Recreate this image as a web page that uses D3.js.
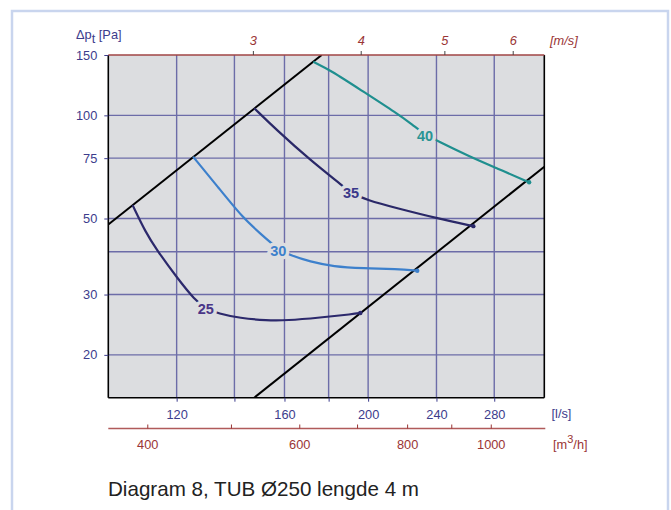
<!DOCTYPE html>
<html><head><meta charset="utf-8">
<script src="https://cdn.jsdelivr.net/npm/d3@7"></script>
<style>html,body{margin:0;padding:0;background:#fff;}svg{display:block;font-family:"Liberation Sans",Arial,sans-serif;}</style>
</head><body>
<script>
// ---- data ----
const flowDomain = [100, 320];          // l/s
const pressureDomain = [15, 150];       // Pa
const flowGrid = [120, 140, 160, 180, 200, 240, 280];
const flowLabels = [120, 160, 200, 240, 280];
const pressureGrid = [20, 30, 40, 50, 75, 100];
const pressureLabels = [20, 30, 50, 75, 100, 150];
const velocityTicks = [3, 4, 5, 6];            // m/s
const m3hTicks = [400, 500, 600, 700, 800, 900, 1000];
const m3hLabels = [400, 600, 800, 1000];
const ductDiameter = 0.25; // m

const upperLimit = [[100, 48.0], [176.7, 150]];
const lowerLimit = [[147.6, 15], [320, 70.8]];

const curve25 = [[106.7,54.7],[110.5,45.5],[113.8,40.5],[120.0,33.7],[126.0,28.9],[129.7,27.3],[134.1,26.4],[142.1,25.6],[152.6,25.2],[160.9,25.2],[175.9,25.7],[192.2,26.3],[195.9,26.5]];
const curve30 = [[125.4,75.7],[134.1,61.6],[143.3,50.1],[149.9,45.3],[157.4,40.6],[162.4,39.1],[171.3,37.4],[182.3,36.2],[197.5,35.8],[215.9,35.6],[228.0,35.2]];
const curve35 = [[147.6,104.9],[156.7,90.6],[171.3,74.1],[186.4,62.6],[191.1,59.4],[199.3,56.6],[215.9,53.6],[240.2,50.1],[264.8,47.5]];
const curve40 = [[172.8,143.3],[180.7,135.6],[197.5,117.2],[215.9,101.4],[225.6,93.5],[232.8,88.0],[240.2,84.4],[262.5,75.7],[281.9,70.1],[307.3,63.8]];
const levelNames = ["25", "30", "35", "40"];
const levelLabelPos = [[129.7,27.3],[157.4,40.2],[191.1,59.2],[232.8,87.0]];

// ---- layout ----
const W = 671, H = 510;
const X0 = 108.3, X1 = 544.3, Y0 = 55, Y1 = 397.7;
const navy = "#3c3c8c", red = "#9a3535", bg = "#dcdde0";

const svg = d3.select("body").append("svg").attr("width", W).attr("height", H);
svg.append("rect").attr("x", 12).attr("y", 11).attr("width", 656).attr("height", 530)
  .attr("fill", "#fff").attr("stroke", "#c9d5ee").attr("stroke-width", 2.5);

const x = d3.scaleLog().domain(flowDomain).range([X0, X1]);
const y = d3.scaleLog().domain(pressureDomain).range([Y1, Y0]);
const area = Math.PI * (ductDiameter / 2) ** 2;
const vToQ = v => v * area * 1000;
const m3hToQ = m => m / 3.6;

svg.append("defs").append("clipPath").attr("id", "clip")
  .append("rect").attr("x", X0).attr("y", Y0).attr("width", X1 - X0).attr("height", Y1 - Y0);

svg.append("rect").attr("x", X0).attr("y", Y0).attr("width", X1 - X0).attr("height", Y1 - Y0).attr("fill", bg);

// grid
const g = svg.append("g");
g.selectAll(".vg").data(flowGrid).join("line")
  .attr("x1", d => x(d)).attr("x2", d => x(d)).attr("y1", Y0).attr("y2", Y1)
  .attr("stroke", "#6c6ca8").attr("stroke-width", 1.4);
g.selectAll(".hg").data(pressureGrid).join("line")
  .attr("y1", d => y(d)).attr("y2", d => y(d)).attr("x1", X0).attr("x2", X1)
  .attr("stroke", "#6c6ca8").attr("stroke-width", 1.4);

// limit lines
const line = d3.line().x(d => x(d[0])).y(d => y(d[1]));
const clipG = svg.append("g").attr("clip-path", "url(#clip)");
[upperLimit, lowerLimit].forEach(l => clipG.append("path").attr("d", line(l))
  .attr("fill", "none").attr("stroke", "#000").attr("stroke-width", 2));

// curves
const curves = [curve25, curve30, curve35, curve40];
const curveColors = ["#2c296c", "#3d80cc", "#2a2868", "#1f8f8f"];
const labelColors = ["#4a3688", "#3d80cc", "#3a388a", "#2a9494"];
const smooth = d3.line().x(d => x(d[0])).y(d => y(d[1])).curve(d3.curveBasis);
curves.forEach((c, i) => {
  clipG.append("path").attr("d", smooth(c)).attr("fill", "none")
    .attr("stroke", curveColors[i]).attr("stroke-width", 2.2);
  const e = c[c.length - 1];
  svg.append("circle").attr("cx", x(e[0])).attr("cy", y(e[1])).attr("r", 2.2).attr("fill", curveColors[i]);
});
levelNames.forEach((t, i) => {
  svg.append("text").attr("x", x(levelLabelPos[i][0])).attr("y", y(levelLabelPos[i][1]))
    .attr("text-anchor", "middle").attr("dominant-baseline", "central")
    .attr("font-size", 14.5).attr("font-weight", "bold").attr("fill", labelColors[i])
    .attr("stroke", bg).attr("stroke-width", 7).attr("paint-order", "stroke").attr("stroke-linejoin", "round")
    .text(t);
});

// frame
svg.append("line").attr("x1", X0).attr("x2", X0).attr("y1", Y0).attr("y2", Y1).attr("stroke", "#000").attr("stroke-width", 1.6);
svg.append("line").attr("x1", X1).attr("x2", X1).attr("y1", Y0).attr("y2", Y1).attr("stroke", "#000").attr("stroke-width", 1.6);
svg.append("line").attr("x1", X0).attr("x2", X1).attr("y1", Y1).attr("y2", Y1).attr("stroke", "#000").attr("stroke-width", 1.6);
svg.append("line").attr("x1", X0).attr("x2", X1).attr("y1", Y0).attr("y2", Y0).attr("stroke", "#a04545").attr("stroke-width", 1.4);

// left axis
const yAxis = svg.append("g").attr("transform", `translate(${X0},0)`)
  .call(d3.axisLeft(y).tickValues(pressureLabels).tickFormat(d3.format("d")).tickSize(4).tickPadding(7));
yAxis.select(".domain").remove();
yAxis.selectAll("line").attr("stroke", navy);
yAxis.selectAll("text").attr("fill", navy).attr("font-size", 12.8).attr("font-family", "Liberation Sans, Arial, sans-serif");

const yt = svg.append("text").attr("x", 76).attr("y", 39).attr("fill", navy).attr("font-size", 12.8);
yt.append("tspan").text("Δp");
yt.append("tspan").attr("dy", 4).attr("font-size", 12.8).text("t");
yt.append("tspan").attr("dy", -4).text(" [Pa]");

// bottom l/s axis
const xAxis = svg.append("g").attr("transform", `translate(0,${Y1})`)
  .call(d3.axisBottom(x).tickValues(flowGrid).tickFormat(d => flowLabels.includes(d) ? d : "").tickSize(4).tickPadding(8));
xAxis.select(".domain").remove();
xAxis.selectAll("line").attr("stroke", navy);
xAxis.selectAll("text").attr("fill", navy).attr("font-size", 12.8).attr("font-family", "Liberation Sans, Arial, sans-serif");
svg.append("text").attr("x", 551.5).attr("y", 418).attr("fill", navy).attr("font-size", 12.8).text("[l/s]");

// m3/h axis
const mY = 428.5;
svg.append("line").attr("x1", X0).attr("x2", X1 + 1).attr("y1", mY).attr("y2", mY).attr("stroke", "#b05a5a").attr("stroke-width", 1.5);
svg.selectAll(".mt").data(m3hTicks).join("line")
  .attr("x1", d => x(m3hToQ(d))).attr("x2", d => x(m3hToQ(d))).attr("y1", mY - 4).attr("y2", mY)
  .attr("stroke", red).attr("stroke-width", 1);
svg.selectAll(".ml").data(m3hLabels).join("text")
  .attr("x", d => x(m3hToQ(d))).attr("y", 449).attr("text-anchor", "middle")
  .attr("fill", red).attr("font-size", 12.8).text(d => d);
const mt = svg.append("text").attr("x", 553).attr("y", 449).attr("fill", red).attr("font-size", 12.8);
mt.append("tspan").text("[m");
mt.append("tspan").attr("dy", -6).attr("font-size", 11).text("3");
mt.append("tspan").attr("dy", 6).text("/h]");

// top velocity axis
svg.selectAll(".vt").data(velocityTicks).join("line")
  .attr("x1", d => x(vToQ(d))).attr("x2", d => x(vToQ(d))).attr("y1", Y0 - 4).attr("y2", Y0)
  .attr("stroke", "#444").attr("stroke-width", 1);
svg.selectAll(".vl").data(velocityTicks).join("text")
  .attr("x", d => x(vToQ(d))).attr("y", 45).attr("text-anchor", "middle")
  .attr("fill", red).attr("font-size", 12.8).attr("font-style", "italic").text(d => d);
svg.append("text").attr("x", 550).attr("y", 45).attr("fill", red).attr("font-size", 12.8)
  .attr("font-style", "italic").text("[m/s]");

// caption
svg.append("text").attr("x", 108).attr("y", 496).attr("fill", "#222").attr("font-size", 20.6)
  .text("Diagram 8, TUB Ø250 lengde 4 m");
</script>
</body></html>
